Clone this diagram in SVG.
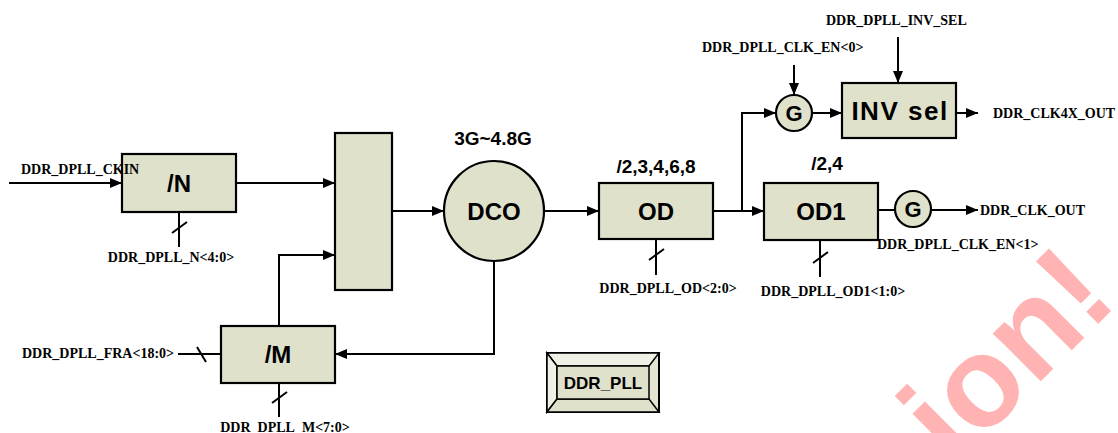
<svg xmlns="http://www.w3.org/2000/svg" width="1118" height="433" viewBox="0 0 1118 433">
<defs>
<marker id="arr" markerUnits="userSpaceOnUse" markerWidth="12" markerHeight="10" refX="12" refY="5" orient="auto">
<path d="M0,0 L12,5 L0,10 z" fill="#000"/>
</marker>
<style>
.box{fill:#dfe1cb;stroke:#000;stroke-width:2.2}
.w{fill:none;stroke:#000;stroke-width:2}
.lbl{font-family:"Liberation Serif","Times New Roman",serif;font-weight:bold;font-size:14px;fill:#000}
.big{font-family:"Liberation Sans",Arial,sans-serif;font-weight:bold;font-size:24px;fill:#000;text-anchor:middle}
.sub{font-family:"Liberation Sans",Arial,sans-serif;font-weight:bold;font-size:19px;fill:#000;text-anchor:middle}
.wm{font-family:"Liberation Sans",Arial,sans-serif;font-weight:bold;font-size:128px;fill:#ffb3b3}
</style>
</defs>
<rect width="1118" height="433" fill="#fff"/>

<g id="watermark">
<text class="wm" transform="translate(954,468) rotate(-45)">ion!</text>
</g>

<g id="connectors">
<line class="w" x1="9" y1="183" x2="122" y2="183" marker-end="url(#arr)"/>
<line class="w" x1="236" y1="183" x2="335" y2="183" marker-end="url(#arr)"/>
<path class="w" d="M279,326 V255 H335" marker-end="url(#arr)"/>
<line class="w" x1="392" y1="211" x2="444" y2="211" marker-end="url(#arr)"/>
<line class="w" x1="544" y1="211" x2="599" y2="211" marker-end="url(#arr)"/>
<line class="w" x1="713" y1="211" x2="764" y2="211" marker-end="url(#arr)"/>
<path class="w" d="M742,211 V113 H776" marker-end="url(#arr)"/>
<line class="w" x1="794" y1="65" x2="794" y2="95" marker-end="url(#arr)"/>
<line class="w" x1="812" y1="113" x2="842" y2="113" marker-end="url(#arr)"/>
<line class="w" x1="898" y1="37" x2="898" y2="83" marker-end="url(#arr)"/>
<line class="w" x1="956" y1="113" x2="978" y2="113" marker-end="url(#arr)"/>
<line class="w" x1="878" y1="210" x2="895" y2="210"/>
<line class="w" x1="931" y1="210" x2="978" y2="210" marker-end="url(#arr)"/>
<path class="w" d="M494,261 V354 H335" marker-end="url(#arr)"/>
<line class="w" x1="178" y1="354" x2="221" y2="354"/>
<line class="w" x1="197" y1="347" x2="206" y2="362"/>
<line class="w" x1="179" y1="212" x2="179" y2="247"/>
<line class="w" x1="172" y1="233" x2="187" y2="222"/>
<line class="w" x1="279" y1="383" x2="279" y2="417"/>
<line class="w" x1="272" y1="403" x2="287" y2="392"/>
<line class="w" x1="656" y1="239" x2="656" y2="275"/>
<line class="w" x1="649" y1="260" x2="664" y2="249"/>
<line class="w" x1="820" y1="240" x2="820" y2="277"/>
<line class="w" x1="813" y1="263" x2="828" y2="252"/>
</g>

<g id="node-N">
<rect class="box" x="122" y="154" width="114" height="58"/>
<text class="big" x="179" y="192">/N</text>
</g>
<g id="node-mux">
<rect class="box" x="335" y="133" width="57" height="157"/>
</g>
<g id="node-M">
<rect class="box" x="221" y="326" width="114" height="57"/>
<text class="big" x="278" y="363">/M</text>
</g>
<g id="node-DCO">
<circle class="box" cx="494" cy="211" r="50"/>
<text class="big" x="494" y="220">DCO</text>
</g>
<g id="node-OD">
<rect class="box" x="599" y="183" width="114" height="56"/>
<text class="big" x="656" y="220">OD</text>
</g>
<g id="node-OD1">
<rect class="box" x="764" y="183" width="114" height="57"/>
<text class="big" x="821" y="220">OD1</text>
</g>
<g id="node-G1">
<circle class="box" cx="794" cy="113" r="18"/>
<text class="big" x="794" y="121" style="font-size:22px">G</text>
</g>
<g id="node-INV">
<rect class="box" x="842" y="83" width="114" height="55"/>
<text class="big" x="900" y="120" style="font-size:26px;letter-spacing:1.5px">INV sel</text>
</g>
<g id="node-G2">
<circle class="box" cx="913" cy="209" r="18"/>
<text class="big" x="913" y="217" style="font-size:22px">G</text>
</g>
<g id="node-DDR_PLL">
<rect x="547" y="353" width="112" height="59" fill="#e3e5d2" stroke="#000" stroke-width="2"/>
<path d="M547,353 H659 L649,366 H557 Z" fill="#f0f1e6" stroke="#000" stroke-width="1.5"/>
<path d="M547,353 L557,366 V399 L547,412 Z" fill="#f0f1e6" stroke="#000" stroke-width="1.5"/>
<path d="M547,412 L557,399 H649 L659,412 Z" fill="#dfe1cb" stroke="#000" stroke-width="1.5"/>
<rect x="557" y="366" width="92" height="33" fill="#dfe1cb" stroke="#000" stroke-width="1.5"/>
<text class="big" x="603" y="389" style="font-size:17px">DDR_PLL</text>
</g>

<g id="labels">
<text class="lbl" x="21" y="174">DDR_DPLL_CKIN</text>
<text class="lbl" x="171" y="262" text-anchor="middle">DDR_DPLL_N&lt;4:0&gt;</text>
<text class="lbl" x="22" y="358">DDR_DPLL_FRA&lt;18:0&gt;</text>
<text class="lbl" x="285" y="432" text-anchor="middle">DDR_DPLL_M&lt;7:0&gt;</text>
<text class="lbl" x="668" y="293" text-anchor="middle">DDR_DPLL_OD&lt;2:0&gt;</text>
<text class="lbl" x="833" y="296" text-anchor="middle">DDR_DPLL_OD1&lt;1:0&gt;</text>
<text class="lbl" x="702" y="52">DDR_DPLL_CLK_EN&lt;0&gt;</text>
<text class="lbl" x="826" y="25">DDR_DPLL_INV_SEL</text>
<text class="lbl" x="993" y="118">DDR_CLK4X_OUT</text>
<text class="lbl" x="980" y="215">DDR_CLK_OUT</text>
<text class="lbl" x="877" y="249">DDR_DPLL_CLK_EN&lt;1&gt;</text>
<text class="sub" x="493" y="145">3G~4.8G</text>
<text class="sub" x="656" y="173">/2,3,4,6,8</text>
<text class="sub" x="827" y="170">/2,4</text>
</g>
</svg>
